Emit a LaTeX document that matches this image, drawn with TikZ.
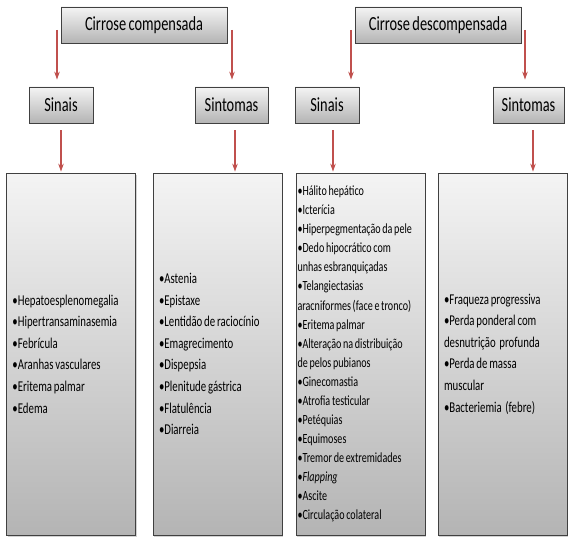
\documentclass[tikz,border=0pt]{standalone}
\usepackage{fontspec}
\setmainfont{Carlito}[FakeStretch=0.72, WordSpace=0.75]
\usetikzlibrary{arrows.meta,shadows}

\definecolor{boxtop}{RGB}{244,244,244}
\definecolor{boxbot}{RGB}{180,180,180}
\definecolor{boxline}{RGB}{64,64,64}
\definecolor{arrred}{RGB}{192,80,77}

\tikzset{
    titlebox/.style={draw=boxline, line width=0.8pt, top color=boxtop, bottom color=boxbot,
        drop shadow={shadow xshift=1pt, shadow yshift=-1.5pt, opacity=0.35},
        font=\fontsize{20}{24}\selectfont, minimum height=36pt, inner sep=0pt},
    listbox/.style={titlebox, font=\fontsize{15}{21.6}\selectfont, minimum height=362pt,
        text width=117pt, align=flush left, inner xsep=6pt},
    arr/.style={draw=arrred, line width=1.2pt, -{Stealth[length=8pt,width=5.5pt]}},
}

\begin{document}
\begin{tikzpicture}[x=1pt, y=-1pt]
    \path[use as bounding box, fill=white] (0,0) rectangle (571,543);

    % -------------------------------
    % Cirrose compensada
    % -------------------------------
    \node[titlebox, minimum width=166pt] (comp) at (144,25) {Cirrose compensada};
    \node[titlebox, minimum width=64pt] (sin1) at (61,105) {Sinais};
    \node[titlebox, minimum width=73pt] (sym1) at (231.5,105) {Sintomas};

    \node[listbox] (lst1) at (71,354) {%
        •Hepatoesplenomegalia\\
        •Hipertransaminasemia\\
        •Febrícula\\
        •Aranhas vasculares\\
        •Eritema palmar\\
        •Edema};
    \node[listbox] (lst2) at (217.5,354) {%
        •Astenia\\
        •Epistaxe\\
        •Lentidão de raciocínio\\
        •Emagrecimento\\
        •Dispepsia\\
        •Plenitude gástrica\\
        •Flatulência\\
        •Diarreia};

    % setas
    \coordinate (c1) at (57,30);
    \coordinate (c2) at (232,30);
    \draw[arr, shorten >=7pt] (c1) -- (c1 |- sin1.north);
    \draw[arr, shorten >=7pt] (c2) -- (c2 |- sym1.north);
    \draw[arr, shorten <=7pt, shorten >=1pt] (sin1.south) -- (sin1.south |- lst1.north);
    \draw[arr, shorten <=7pt, shorten >=1pt] ([xshift=3.5pt]sym1.south) -- ([xshift=3.5pt]sym1.south |- lst2.north);


    % -------------------------------
    % Cirrose descompensada
    % -------------------------------
    \node[titlebox, minimum width=166pt] (desc) at (438,25) {Cirrose descompensada};
    \node[titlebox, minimum width=64pt] (sin2) at (327,105) {Sinais};
    \node[titlebox, minimum width=71pt] (sym2) at (528.5,105) {Sintomas};

    \node[listbox, font=\fontsize{14}{19.06}\selectfont, text width=126pt, inner xsep=1.5pt] (lst3) at (360.5,354) {%
        •Hálito hepático\\
        •Icterícia\\
        •Hiperpegmentação da pele\\
        •Dedo hipocrático com\\
        unhas esbranquiçadas\\
        •Telangiectasias\\
        aracniformes (face e tronco)\\
        •Eritema palmar\\
        •Alteração na distribuição\\
        de pelos pubianos\\
        •Ginecomastia\\
        •Atrofia testicular\\
        •Petéquias\\
        •Equimoses\\
        •Tremor de extremidades\\
        •\textit{Flapping}\\
        •Ascite\\
        •Circulação colateral};
    \node[listbox] (lst4) at (502.5,354) {%
        •Fraqueza progressiva\\
        •Perda ponderal com\\
        desnutrição\ \ profunda\\
        •Perda de massa\\
        muscular\\
        •Bacteriemia\ \ (febre)};

    % setas
    \coordinate (c3) at (351,30);
    \coordinate (c4) at (525,30);
    \draw[arr, shorten >=7pt] (c3) -- (c3 |- sin2.north);
    \draw[arr, shorten >=7pt] (c4) -- (c4 |- sym2.north);
    \draw[arr, shorten <=7pt, shorten >=1pt] ([xshift=6pt]sin2.south) -- ([xshift=6pt]sin2.south |- lst3.north);
    \draw[arr, shorten <=7pt, shorten >=1pt] ([xshift=4.5pt]sym2.south) -- ([xshift=4.5pt]sym2.south |- lst4.north);

\end{tikzpicture}
\end{document}
